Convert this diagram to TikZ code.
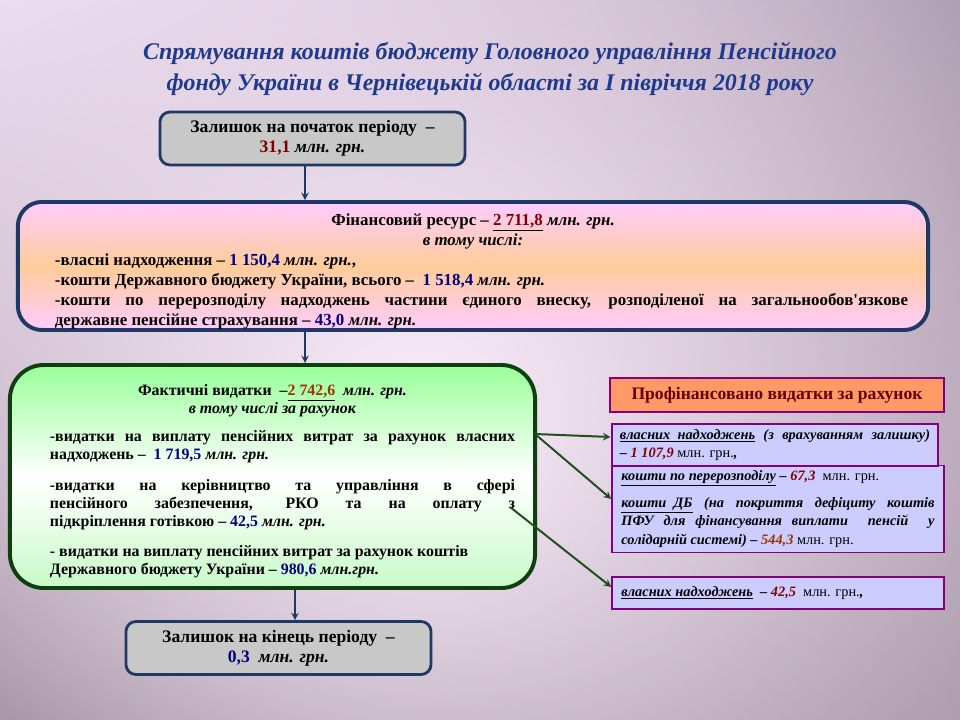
\documentclass[tikz,border=0pt]{standalone}
\usepackage{fontspec}
\setmainfont{Liberation Serif}
\setlength{\parindent}{0pt}
\usetikzlibrary{arrows,fadings,shadings}

\definecolor{navyline}{HTML}{1F3864}
\definecolor{titleblue}{HTML}{1F3A8C}
\definecolor{numred}{HTML}{800000}
\definecolor{numblue}{HTML}{000080}
\definecolor{numbrown}{HTML}{993300}
\definecolor{boxgray}{HTML}{C8C8C8}
\definecolor{finpink}{HTML}{FFCCFF}
\definecolor{finpeach}{HTML}{FFCC99}
\definecolor{greentop}{HTML}{99FF99}
\definecolor{greenbot}{HTML}{C8FAC8}
\definecolor{greenline}{HTML}{0F3F0F}
\definecolor{arrowgreen}{HTML}{1F4F1F}
\definecolor{violetline}{HTML}{800080}
\definecolor{lilac}{HTML}{CCCCFF}
\definecolor{salmon}{HTML}{FF9966}
\definecolor{headred}{HTML}{660000}
\definecolor{bgglow}{HTML}{FDEEFD}
\definecolor{bgul}{HTML}{E6D6EC}
\definecolor{bgur}{HTML}{9C8CA0}
\definecolor{bgll}{HTML}{6E5E6E}
\definecolor{bglr}{HTML}{8E7E8E}

\tikzfading[name=glow, inner color=transparent!0, outer color=transparent!100]

\newcommand{\mlnit}{\textit{млн. грн.}}
\newcommand{\mlnup}{{\mdseries\upshape млн. грн.}}

\tikzset{
  graybox/.style={draw=navyline, fill=boxgray, line width=2pt, rounded corners=0.25cm,
    align=center, font=\bfseries\fontsize{12.5}{14.2}\selectfont,
    minimum width=7.625cm, minimum height=1.325cm},
  finbox/.style={draw=navyline, line width=2.8pt, rounded corners=0.6cm,
    top color=finpink, bottom color=finpink, middle color=finpeach,
    align=justify, text width=21.75cm, inner xsep=0.5cm, inner ysep=0pt,
    font=\bfseries\fontsize{12}{14.2}\selectfont, minimum height=3.2cm},
  greenbox/.style={draw=greenline, line width=2.8pt, rounded corners=0.85cm,
    top color=greentop, bottom color=greenbot, middle color=white,
    align=justify, text width=12.125cm, inner xsep=0.5cm, inner ysep=0pt,
    font=\bfseries\fontsize{11.3}{12.8}\selectfont, minimum height=5.575cm},
  headbox/.style={draw=violetline, fill=salmon, line width=2pt, text=headred,
    font=\bfseries\fontsize{12.5}{13}\selectfont,
    minimum width=8.35cm, minimum height=0.85cm},
  lilacbox/.style={draw=violetline, fill=lilac, line width=1pt,
    align=justify, text width=7.825cm, inner xsep=0.2375cm,
    font=\bfseries\itshape\fontsize{10.2}{13.2}\selectfont, minimum height=0.8cm},
  titletext/.style={text=titleblue, align=center,
    font=\bfseries\itshape\fontsize{17}{22}\selectfont},
  navyarrow/.style={->, draw=navyline, line width=1.3pt},
  greenarrow/.style={->, draw=arrowgreen, line width=1.4pt}
}

\begin{document}
\begin{tikzpicture}[x=0.025cm, y=-0.025cm, >=stealth]
  \useasboundingbox (0,0) rectangle (960,720);
  \begin{scope}
    \clip (0,0) rectangle (960,720);
    \shade[upper left=bgul, upper right=bgur, lower left=bgll, lower right=bglr]
      (0,0) rectangle (960,720);
    \fill[bgglow, path fading=glow] (420,420) ellipse [x radius=22cm, y radius=20cm];
  \end{scope}

  \node[titletext] (title) at (490,69)
    {Спрямування коштів бюджету Головного управління Пенсійного\\
     фонду України в Чернівецькій області за І півріччя 2018 року};

  \node[graybox] (start) at (312.5,138.5)
    {Залишок на початок періоду \ –\\ \textcolor{numred}{31,1} \mlnit};

  \node[finbox] (fin) at (473,266) {%
    {\centering\rule{0pt}{16pt}Фінансовий ресурс – \underline{\textcolor{numred}{2 711,8}} \mlnit\par
     \textit{в тому числі:}\par}
    \leftskip=0.425cm
    -власні надходження – \textcolor{numblue}{1 150,4} \mlnit,\par
    -кошти Державного бюджету України, всього – \ \textcolor{numblue}{1 518,4} \mlnit\par
    -кошти по перерозподілу надходжень частини єдиного внеску, розподіленої на
    загальнообов\textquotesingle язкове\linebreak державне пенсійне страхування –
    \textcolor{numblue}{43,0} \mlnit\par};

  \node[greenbox] (spend) at (272.5,476.5) {%
    {\centering\rule{0pt}{15pt}Фактичні видатки \ –\underline{\textcolor{numbrown}{2 742,6}} \ \mlnit\par
     \textit{в тому числі за рахунок}\par}
    \vspace{7pt}
    \leftskip=0.5cm
    -видатки на виплату пенсійних витрат за рахунок власних\linebreak
    надходжень – \ \textcolor{numblue}{1 719,5} \mlnit\par
    \vspace{9pt}
    -видатки на керівництво та управління в сфері\linebreak
    пенсійного забезпечення, РКО та на оплату з\linebreak
    підкріплення готівкою – \textcolor{numblue}{42,5} \mlnit\par
    \vspace{9pt}
    - видатки на виплату пенсійних витрат за рахунок коштів\newline
    Державного бюджету України – \textcolor{numblue}{980,6} \textit{млн.грн.}\par};

  \node[graybox] (finish) at (278.5,648)
    {Залишок на кінець періоду \ –\\ \textcolor{numblue}{0,3} \ \mlnit};

  \node[headbox] (paid) at (777,395) {Профінансовано видатки за рахунок};

  \node[lilacbox, minimum height=2.15cm] (redist) at (778,509) {%
    \underline{кошти по перерозподілу} – \textcolor{numred}{67,3} \ \mlnup\par
    \vspace{6pt}
    \underline{кошти \ ДБ} (на покриття дефіциту коштів\linebreak
    ПФУ для фінансування виплати \ пенсій \ у\linebreak
    солідарній системі) – \textcolor{numbrown}{544,3} \mlnup};
  \node[lilacbox, line width=2pt, text width=7.75cm, inner xsep=0.2cm,
    minimum height=1.05cm] (own) at (775,445) {%
    \underline{власних \ надходжень} (з врахуванням залишку)\linebreak
    – \textcolor{numred}{1 107,9} \mlnup,};
  \node[lilacbox] (ownb) at (778,593)
    {\underline{власних надходжень} \ – \textcolor{numred}{42,5} \ \mlnup,};

  \coordinate (axisa) at (305,0);
  \coordinate (axisb) at (295,0);
  \coordinate (gout) at (535,434);
  \coordinate (gz) at (510,507);

  \draw[navyarrow] (start.south -| axisa) -- (fin.north -| axisa);
  \draw[navyarrow] (fin.south -| axisa) -- (spend.north -| axisa);
  \draw[navyarrow] (spend.south -| axisb) -- (finish.north -| axisb);
  \draw[greenarrow] (gout) -- ([yshift=0.2cm]own.west);
  \draw[greenarrow] (gout) -- ([yshift=0.25cm]redist.west);
  \draw[greenarrow] (gz) -- ([yshift=0.15cm]ownb.west);
\end{tikzpicture}
\end{document}
